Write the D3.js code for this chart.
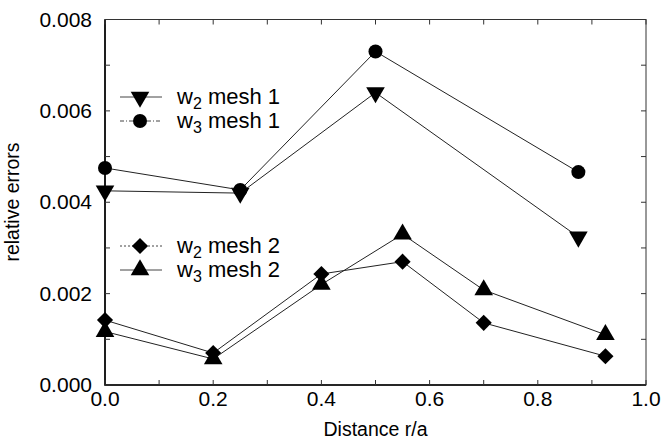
<!DOCTYPE html>
<html>
<head>
<meta charset="utf-8">
<script src="https://cdn.jsdelivr.net/npm/d3@7"></script>
<style>
    body { margin: 0; background: #fff; }
    svg text { font-family: "Liberation Sans", Arial, sans-serif; fill: #000; }
</style>
</head>
<body>
<svg width="665" height="441"></svg>
<script>
const xMesh1 = [0, 0.25, 0.5, 0.875];
const w2Mesh1 = [0.00425, 0.0042, 0.0064, 0.00324];
const w3Mesh1 = [0.00475, 0.00427, 0.0073, 0.00466];

const xMesh2 = [0, 0.2, 0.4, 0.55, 0.7, 0.925];
const w2Mesh2 = [0.00142, 0.0007, 0.00243, 0.0027, 0.00136, 0.00063];
const w3Mesh2 = [0.00117, 0.00057, 0.0022, 0.0033, 0.00208, 0.0011];

const xTicks = [0, 0.2, 0.4, 0.6, 0.8, 1.0];
const yTicks = [0, 0.002, 0.004, 0.006, 0.008];

const svg = d3.select("svg");
const margin = { top: 19.5, right: 19, bottom: 56, left: 105 };
const width = 665 - margin.left - margin.right;
const height = 441 - margin.top - margin.bottom;

const x = d3.scaleLinear().domain([0, 1]).range([margin.left, margin.left + width]);
const y = d3.scaleLinear().domain([0, 0.008]).range([margin.top + height, margin.top]);

// frame
svg.append("rect")
    .attr("x", x(0)).attr("y", y(0.008))
    .attr("width", width).attr("height", height)
    .attr("fill", "none").attr("stroke", "#333").attr("stroke-width", 1);
svg.append("path")
    .attr("d", `M${x(0)},${y(0.008)}V${y(0)}H${x(1)}`)
    .attr("fill", "none").attr("stroke", "#000").attr("stroke-width", 1.6);

// inward ticks on all four sides
const minorX = d3.range(0, 1.0001, 0.1);
const minorY = d3.range(0, 0.00801, 0.001);
const tickG = svg.append("g").attr("stroke", "#333").attr("stroke-width", 1);
minorX.forEach(v => {
    tickG.append("line").attr("x1", x(v)).attr("x2", x(v)).attr("y1", y(0)).attr("y2", y(0) - 5);
    tickG.append("line").attr("x1", x(v)).attr("x2", x(v)).attr("y1", y(0.008)).attr("y2", y(0.008) + 5);
});
minorY.forEach(v => {
    tickG.append("line").attr("x1", x(0)).attr("x2", x(0) + 5).attr("y1", y(v)).attr("y2", y(v));
    tickG.append("line").attr("x1", x(1)).attr("x2", x(1) - 5).attr("y1", y(v)).attr("y2", y(v));
});

// tick labels
svg.append("g").selectAll("text")
    .data(xTicks).enter().append("text")
    .attr("x", d => x(d)).attr("y", y(0) + 21)
    .attr("text-anchor", "middle")
    .attr("font-size", 21)
    .text(d => d.toFixed(1));
svg.append("g").selectAll("text")
    .data(yTicks).enter().append("text")
    .attr("x", x(0) - 13).attr("y", d => y(d) + 7)
    .attr("text-anchor", "end")
    .attr("font-size", 21)
    .text(d => d.toFixed(3));

// axis titles
svg.append("text")
    .attr("x", x(0.5)).attr("y", 436)
    .attr("text-anchor", "middle").attr("font-size", 19.5)
    .text("Distance r/a");
svg.append("text")
    .attr("transform", `translate(19,202) rotate(-90)`)
    .attr("text-anchor", "middle").attr("font-size", 19.5)
    .text("relative errors");

const line = d3.line().x(d => x(d[0])).y(d => y(d[1]));

const series = [
    { xs: xMesh1, ys: w2Mesh1, symbol: d3.symbolTriangle, size: 150, rot: 180, sub: "2", mesh: "1", dash: null, ly: 97 },
    { xs: xMesh1, ys: w3Mesh1, symbol: d3.symbolCircle, size: 155, rot: 0, sub: "3", mesh: "1", dash: "4,2,1,2", ly: 121 },
    { xs: xMesh2, ys: w2Mesh2, symbol: d3.symbolSquare, size: 130, rot: 45, sub: "2", mesh: "2", dash: "2,2", ly: 246 },
    { xs: xMesh2, ys: w3Mesh2, symbol: d3.symbolTriangle, size: 150, rot: 0, sub: "3", mesh: "2", dash: null, ly: 270 }
];

series.forEach(s => {
    const pts = s.xs.map((v, i) => [v, s.ys[i]]);
    svg.append("path")
        .datum(pts)
        .attr("d", line)
        .attr("fill", "none")
        .attr("stroke", "#222")
        .attr("stroke-width", 1);
    svg.append("g").selectAll("path")
        .data(pts).enter().append("path")
        .attr("d", d3.symbol().type(s.symbol).size(s.size))
        .attr("transform", d => `translate(${x(d[0])},${y(d[1])}) rotate(${s.rot})`)
        .attr("fill", "#000");

    // legend entry
    svg.append("line")
        .attr("x1", 120).attr("x2", 162)
        .attr("y1", s.ly).attr("y2", s.ly)
        .attr("stroke", "#444").attr("stroke-width", 1)
        .attr("stroke-dasharray", s.dash);
    svg.append("path")
        .attr("d", d3.symbol().type(s.symbol).size(s.size))
        .attr("transform", `translate(140,${s.ly}) rotate(${s.rot})`)
        .attr("fill", "#000");
    const t = svg.append("text")
        .attr("x", 177).attr("y", s.ly + 7)
        .attr("font-size", 22);
    t.append("tspan").text("w");
    t.append("tspan").attr("font-size", 16).attr("dy", 5).text(s.sub);
    t.append("tspan").attr("dy", -5).text(" mesh " + s.mesh);
});
</script>
</body>
</html>
